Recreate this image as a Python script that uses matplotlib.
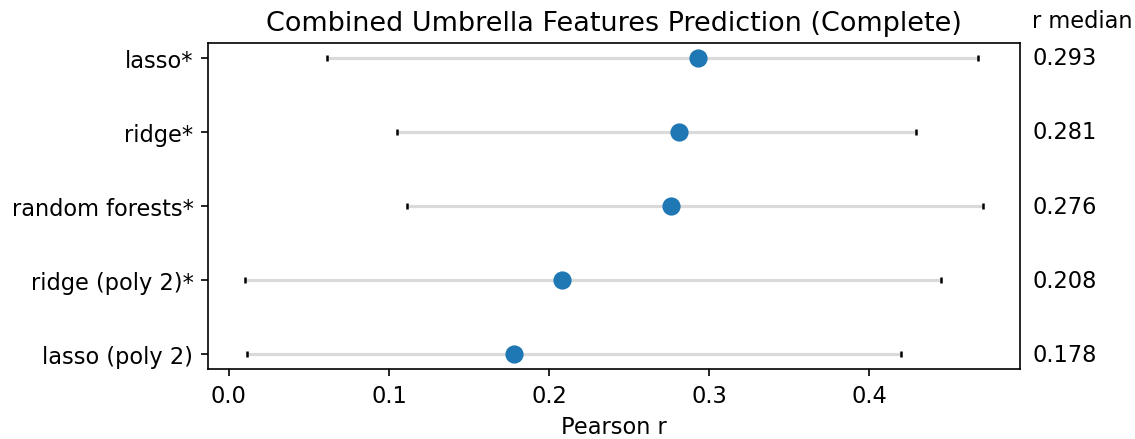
import numpy as np
import matplotlib
matplotlib.use("Agg")
import matplotlib.pyplot as plt

# ── data ─────────────────────────────────────────────────────────────────────
models = ["lasso*", "ridge*", "random forests*", "ridge (poly 2)*", "lasso (poly 2)"]
r_median = [0.293, 0.281, 0.276, 0.208, 0.178]
r_low = [0.061, 0.105, 0.111, 0.010, 0.011]
r_high = [0.468, 0.429, 0.471, 0.445, 0.420]

plt.rcParams["font.size"] = 10.8

# ── plot ─────────────────────────────────────────────────────────────────────
fig = plt.figure(figsize=(1135 / 150, 440 / 150), dpi=150)
ax = fig.add_axes([208 / 1135, 1 - 370 / 440, 812 / 1135, 326 / 440])

ypos = np.arange(len(models))
ax.hlines(ypos, r_low, r_high, color="#dadada", linewidth=1.5, zorder=1)
ax.plot(r_low, ypos, "|", color="black", markersize=3, mew=1.2, zorder=2)
ax.plot(r_high, ypos, "|", color="black", markersize=3, mew=1.2, zorder=2)
ax.scatter(r_median, ypos, s=60, color="#1f77b4", zorder=3)

ax.set_yticks(ypos)
ax.set_yticklabels(models)
ax.set_ylim(len(models) - 1 + 0.2, -0.2)
ax.set_xticks([0.0, 0.1, 0.2, 0.3, 0.4])
ax.set_xlabel("Pearson r")
ax.set_title("Combined Umbrella Features Prediction (Complete)")

# median values to the right of the axes
trans = ax.get_yaxis_transform()
for y, r in zip(ypos, r_median):
    ax.text(1.015, y, f"{r:.3f}", transform=trans, va="center", ha="left")
ax.text(1.015, -0.5, "r median", transform=trans, va="center", ha="left",
        clip_on=False)

fig.savefig("out.png", dpi=150)
